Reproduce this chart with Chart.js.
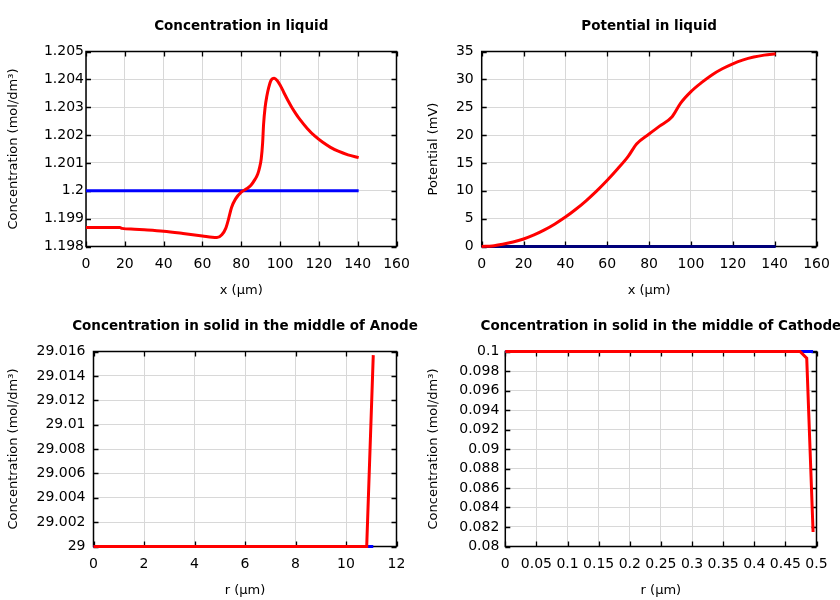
<!DOCTYPE html>
<html>
<head>
<meta charset="utf-8">
<script src="https://cdn.jsdelivr.net/npm/chart.js@4/dist/chart.umd.min.js"></script>
<style>
  html, body { margin: 0; padding: 0; background: #fff; }
  #wrap { position: relative; width: 840px; height: 600px; }
  #wrap canvas { position: absolute; }
</style>
</head>
<body>
<div id="wrap">
  <canvas id="c1" width="420" height="300" style="left:0;top:0"></canvas>
  <canvas id="c2" width="420" height="300" style="left:420px;top:0"></canvas>
  <canvas id="c3" width="420" height="300" style="left:0;top:300px"></canvas>
  <canvas id="c4" width="420" height="300" style="left:420px;top:300px"></canvas>
</div>
<script>
// ---------- Data ----------
// Chart 1: Concentration in liquid
const liqX = [0, 17.5, 18.5, 25, 30, 40, 50, 60, 65, 67.5, 70, 72, 73.5, 75, 77, 80, 83, 85, 87, 88.5, 89.5, 90.3, 91, 91.5, 92.3, 93.2, 94.1, 95.3, 97, 98.5, 100, 102, 104, 106, 108, 110, 114, 118, 122, 126, 130, 135, 140.5];
const liqConcRed = [1.19868, 1.19868, 1.19865, 1.19862, 1.19860, 1.19855, 1.19847, 1.19838, 1.19833, 1.19832, 1.19842, 1.19865, 1.19900, 1.19940, 1.19970, 1.19995, 1.20008, 1.20020, 1.20040, 1.20060, 1.20085, 1.20115, 1.20170, 1.20238, 1.20300, 1.20340, 1.20369, 1.20396, 1.20404, 1.20396, 1.20380, 1.20352, 1.20325, 1.20300, 1.20278, 1.20258, 1.20224, 1.20196, 1.20174, 1.20156, 1.20142, 1.20129, 1.20119];
const liqConcBlueX = [0, 140.5];
const liqConcBlue = [1.2, 1.2];
const liqConcYTicks = [1.198, 1.199, 1.2, 1.201, 1.202, 1.203, 1.204, 1.205];
const liqXTicks = [0, 20, 40, 60, 80, 100, 120, 140, 160];

// Chart 2: Potential in liquid
const potX = [0, 5, 10, 15, 20, 25, 30, 35, 40, 45, 50, 55, 60, 65, 70, 74, 80, 85, 91, 95, 100, 105, 110, 115, 120, 125, 130, 135, 140.5];
const potRed = [0, 0.1, 0.4, 0.8, 1.35, 2.08, 2.98, 4.05, 5.28, 6.68, 8.25, 9.98, 11.88, 13.94, 16.17, 18.4, 20.2, 21.6, 23.3, 25.7, 27.8, 29.4, 30.8, 31.9, 32.8, 33.5, 34.0, 34.35, 34.6];
const potBlueX = [0, 140.5];
const potBlue = [0, 0];
const potYTicks = [0, 5, 10, 15, 20, 25, 30, 35];

// Chart 3: Concentration in solid in the middle of Anode
const anodeR = [0, 1, 2, 3, 4, 5, 6, 7, 8, 9, 10, 10.82, 11.08];
const anodeRed = [29, 29, 29, 29, 29, 29, 29, 29, 29, 29, 29, 29, 29.0157];
const anodeBlueR = [0, 11.08];
const anodeBlue = [29, 29];
const anodeYTicks = [29, 29.002, 29.004, 29.006, 29.008, 29.01, 29.012, 29.014, 29.016];
const anodeXTicks = [0, 2, 4, 6, 8, 10, 12];

// Chart 4: Concentration in solid in the middle of Cathode
const cathR = [0, 0.05, 0.1, 0.15, 0.2, 0.25, 0.3, 0.35, 0.4, 0.45, 0.4735, 0.4843, 0.4945];
const cathRed = [0.1, 0.1, 0.1, 0.1, 0.1, 0.1, 0.1, 0.1, 0.1, 0.1, 0.1, 0.09932, 0.08148];
const cathBlueR = [0, 0.4945];
const cathBlue = [0.1, 0.1];
const cathYTicks = [0.08, 0.082, 0.084, 0.086, 0.088, 0.09, 0.092, 0.094, 0.096, 0.098, 0.1];
const cathXTicks = [0, 0.05, 0.1, 0.15, 0.2, 0.25, 0.3, 0.35, 0.4, 0.45, 0.5];

// ---------- Helpers ----------
const FONT = "'DejaVu Sans', 'Liberation Sans', sans-serif";
const pts = (xs, ys) => xs.map((x, i) => ({ x: x, y: ys[i] }));

const frame = {
  id: 'frame',
  beforeDatasetsDraw(chart) {
    const { ctx, chartArea: a, scales } = chart;
    const x = scales.x, y = scales.y;
    const L = 5;
    ctx.save();
    ctx.strokeStyle = '#000';
    ctx.lineWidth = 1.3;
    ctx.beginPath();
    x.ticks.forEach(t => {
      const px = Math.round(x.getPixelForValue(t.value)) + 0.5;
      ctx.moveTo(px, a.bottom); ctx.lineTo(px, a.bottom - L);
      ctx.moveTo(px, a.top); ctx.lineTo(px, a.top + L);
    });
    y.ticks.forEach(t => {
      const py = Math.round(y.getPixelForValue(t.value)) + 0.5;
      ctx.moveTo(a.left, py); ctx.lineTo(a.left + L, py);
      ctx.moveTo(a.right, py); ctx.lineTo(a.right - L, py);
    });
    ctx.stroke();
    ctx.lineWidth = 1.5;
    ctx.strokeRect(a.left, a.top, a.right - a.left, a.bottom - a.top);
    ctx.restore();
  },
  afterDraw(chart, args, opts) {
    const { ctx, chartArea: a } = chart;
    ctx.save();
    ctx.fillStyle = '#000';
    ctx.font = "bold 13.5px " + FONT;
    ctx.textAlign = 'center';
    ctx.textBaseline = 'middle';
    ctx.fillText(opts.text, (a.left + a.right) / 2, 26.5);
    ctx.restore();
  }
};

function makeChart(id, cfg) {
  const yTicks = cfg.yTicks, xTicks = cfg.xTicks;
  return new Chart(document.getElementById(id), {
    type: 'line',
    data: { datasets: cfg.datasets.map(d => ({
      data: d.data,
      borderColor: d.color,
      backgroundColor: d.color,
      borderWidth: 3,
      pointRadius: 0,
      fill: false,
      tension: 0,
      cubicInterpolationMode: d.smooth ? 'monotone' : 'default',
      clip: 6
    })) },
    options: {
      responsive: false,
      animation: false,
      events: [],
      layout: { padding: { left: 0, right: 23.5, top: 51.5, bottom: 0 } },
      plugins: {
        legend: { display: false },
        tooltip: { enabled: false },
        title: { display: false },
        frame: { text: cfg.title }
      },
      scales: {
        x: {
          type: 'linear',
          min: xTicks[0], max: xTicks[xTicks.length - 1],
          afterBuildTicks: s => { s.ticks = xTicks.map(v => ({ value: v })); },
          afterFit: s => { s.height = 53.5; },
          grid: { color: '#d8d8d8', lineWidth: 1, drawTicks: false },
          border: { display: false },
          ticks: { color: '#000', font: { family: FONT, size: 14 }, padding: 9.5, maxRotation: 0, autoSkip: false,
                   callback: v => String(v) },
          title: { display: true, text: cfg.xTitle, color: '#000', font: { family: FONT, size: 13 }, padding: { top: 0, bottom: 2 } }
        },
        y: {
          type: 'linear',
          min: yTicks[0], max: yTicks[yTicks.length - 1],
          afterBuildTicks: s => { s.ticks = yTicks.map(v => ({ value: v })); },
          afterFit: s => { s.width = cfg.yWidth; },
          grid: { color: '#d8d8d8', lineWidth: 1, drawTicks: false },
          border: { display: false },
          ticks: { color: '#000', font: { family: FONT, size: 14 }, padding: cfg.yPad, autoSkip: false,
                   callback: v => String(v) },
          title: { display: true, text: cfg.yTitle, color: '#000', font: { family: FONT, size: 13 }, padding: { top: 6, bottom: 0 } }
        }
      }
    },
    plugins: [frame]
  });
}

// First dataset is drawn on top in Chart.js, so red comes first.
makeChart('c1', {
  title: 'Concentration in liquid',
  xTitle: 'x (μm)', yTitle: 'Concentration (mol/dm³)',
  yWidth: 86, yPad: 2,
  xTicks: liqXTicks, yTicks: liqConcYTicks,
  datasets: [
    { data: pts(liqX, liqConcRed), color: '#ff0000', smooth: true },
    { data: pts(liqConcBlueX, liqConcBlue), color: '#0000ff' }
  ]
});

makeChart('c2', {
  title: 'Potential in liquid',
  xTitle: 'x (μm)', yTitle: 'Potential (mV)',
  yWidth: 61.7, yPad: 8,
  xTicks: liqXTicks, yTicks: potYTicks,
  datasets: [
    { data: pts(potX, potRed), color: '#ff0000', smooth: true },
    { data: pts(potBlueX, potBlue), color: '#00007a' }
  ]
});

makeChart('c3', {
  title: 'Concentration in solid in the middle of Anode',
  xTitle: 'r (μm)', yTitle: 'Concentration (mol/dm³)',
  yWidth: 93.5, yPad: 8,
  xTicks: anodeXTicks, yTicks: anodeYTicks,
  datasets: [
    { data: pts(anodeR, anodeRed), color: '#ff0000' },
    { data: pts(anodeBlueR, anodeBlue), color: '#0000ff' }
  ]
});

makeChart('c4', {
  title: 'Concentration in solid in the middle of Cathode',
  xTitle: 'r (μm)', yTitle: 'Concentration (mol/dm³)',
  yWidth: 85.3, yPad: 6,
  xTicks: cathXTicks, yTicks: cathYTicks,
  datasets: [
    { data: pts(cathR, cathRed), color: '#ff0000' },
    { data: pts(cathBlueR, cathBlue), color: '#0000ff' }
  ]
});
</script>
</body>
</html>
